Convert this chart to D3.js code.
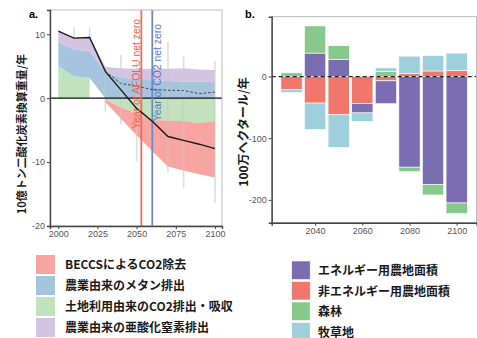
<!DOCTYPE html>
<html><head><meta charset="utf-8">
<script src="https://cdn.jsdelivr.net/npm/d3@7"></script>
<style>
body{margin:0;background:#fff}
svg{display:block}
.tick text{font-family:"Liberation Sans",Arial,sans-serif;font-size:9px;fill:#555}
.jp{font-family:"Noto Sans CJK JP",sans-serif;font-weight:bold;fill:#1a1a1a}
</style>
</head><body>
<svg id="c" width="477" height="338"></svg>
<script>
// ---------- Panel a data (10億トンCO2換算/年) ----------
const years = [2000,2010,2020,2030,2040,2050,2060,2070,2080,2090,2100];
const landUseCO2 = [5.0,3.45,3.2,-0.3,-1.4,-2.4,-3.4,-3.5,-3.6,-3.9,-3.6];
const methane    = [3.8,4.15,4.2,4.0,3.3,2.9,2.8,2.7,2.6,2.6,2.5];
const nitrousOx  = [1.7,1.9,2.2,0.9,1.4,1.7,1.8,1.9,2.1,1.9,1.9];
const beccs      = [null,null,null,-0.3,-1.8,-3.4,-4.9,-7.2,-7.7,-8.0,-8.8];
const netTotal   = [10.5,9.4,9.5,4.2,1.3,-1.6,-3.6,-6.0,-6.6,-7.2,-7.9];
const netExclBeccs = [null,null,null,4.2,2.3,1.9,1.35,1.25,1.2,0.7,0.95];
const rangeYears = [2010,2020,2030,2040,2050,2070,2080,2100];
const rangeLow   = [8.8,9.0,-2.2,-4.1,-9.9,-11.6,-14.1,-16.4];
const rangeHigh  = [11.1,11.1,5.0,6.8,5.5,8.8,6.6,5.8];
const afoluNetZeroYear = 2053;
const co2NetZeroYear = 2060;
const yTicksA = [-20,-10,0,10];
const xTicksA = [2000,2025,2050,2075,2100];
const legendA = ["BECCSによるCO2除去","農業由来のメタン排出","土地利用由来のCO2排出・吸収","農業由来の亜酸化窒素排出"];

// ---------- Panel b data (100万ヘクタール/年) ----------
const barYears = [2030,2040,2050,2060,2070,2080,2090,2100];
const nonEnergyCrop = [-21,-43,-62,-44,-7,5,9,10];
const energyCrop    = [0,38,28,-15,-37,-147,-175,-205];
const forest        = [6,44,22,0,8,-7,-17,-17];
const pasture       = [-5,-43,-53,-14,6,28,25,28];
const yTicksB = [-200,-100,0];
const xTicksB = [2040,2060,2080,2100];
const legendB = ["エネルギー用農地面積","非エネルギー用農地面積","森林","牧草地"];

const svg = d3.select("#c");

// ================= Panel a =================
const A = {l:50, r:222, t:10, b:226};
const xa = d3.scaleLinear().domain([1994.7,2104.5]).range([A.l,A.r]);
const ya = d3.scaleLinear().domain([-20,13.8]).range([A.b,A.t]);
const colA = {beccs:"#f8a5a2", methane:"#a6c4de", land:"#c0e2bd", n2o:"#d5c4e1"};

const gA = svg.append("g");
svg.append("clipPath").attr("id","clipA").append("rect")
  .attr("x",A.l).attr("y",A.t).attr("width",A.r-A.l).attr("height",A.b-A.t);
const plotA = gA.append("g").attr("clip-path","url(#clipA)");

const rowsA = years.map((y,i)=>({year:y, land:landUseCO2[i], methane:methane[i], n2o:nitrousOx[i], beccs:beccs[i]==null?0:beccs[i]}));
const stA = d3.stack().keys(["land","methane","n2o","beccs"]).offset(d3.stackOffsetDiverging)(rowsA);
const areaA = d3.area().x(d=>xa(d.data.year)).y0(d=>ya(d[0])).y1(d=>ya(d[1]));
const byKey = Object.fromEntries(stA.map(s=>[s.key,s]));
const landPos = byKey.land.filter((d,i)=>landUseCO2[i]>0);
const landNeg = byKey.land.filter((d,i)=>landUseCO2[i]<=0);
plotA.append("path").attr("d",areaA(landPos)).attr("fill",colA.land);
plotA.append("path").attr("d",areaA(landNeg)).attr("fill",colA.land);
plotA.append("path").attr("d",areaA(byKey.methane)).attr("fill",colA.methane);
plotA.append("path").attr("d",areaA(byKey.n2o)).attr("fill",colA.n2o);
plotA.append("path").attr("d",areaA(byKey.beccs.filter((d,i)=>beccs[i]!=null))).attr("fill",colA.beccs);

plotA.selectAll("line.rng").data(rangeYears).join("line").attr("class","rng")
  .attr("x1",d=>xa(d)).attr("x2",d=>xa(d))
  .attr("y1",(d,i)=>ya(rangeLow[i])).attr("y2",(d,i)=>ya(rangeHigh[i]))
  .attr("stroke","#c8c8c8").attr("stroke-width",1.6).attr("opacity",0.6);

plotA.append("line").attr("x1",A.l).attr("x2",A.r).attr("y1",ya(0)).attr("y2",ya(0))
  .attr("stroke","#111").attr("stroke-width",1.2);

plotA.append("line").attr("x1",xa(afoluNetZeroYear)).attr("x2",xa(afoluNetZeroYear))
  .attr("y1",A.t).attr("y2",A.b).attr("stroke","#f26a5a").attr("stroke-width",1.8);
plotA.append("line").attr("x1",xa(co2NetZeroYear)).attr("x2",xa(co2NetZeroYear))
  .attr("y1",A.t).attr("y2",A.b).attr("stroke","#6b88cc").attr("stroke-width",1.8);

const lineA = d3.line().defined(d=>d[1]!=null).x(d=>xa(d[0])).y(d=>ya(d[1]));
plotA.append("path").attr("d",lineA(years.map((y,i)=>[y,netExclBeccs[i]])))
  .attr("fill","none").attr("stroke","#333").attr("stroke-width",0.9).attr("stroke-dasharray","2.5,2");
plotA.append("path").attr("d",lineA(years.map((y,i)=>[y,netTotal[i]])))
  .attr("fill","none").attr("stroke","#1a1a1a").attr("stroke-width",1.4);

gA.append("text").attr("transform",`translate(${xa(afoluNetZeroYear)-1.5},19) rotate(-90)`)
  .attr("text-anchor","end").attr("font-family","Liberation Sans,Arial,sans-serif")
  .attr("font-size",10.4).attr("fill","#f0604f").text("Year of AFOLU net zero");
gA.append("text").attr("transform",`translate(${xa(co2NetZeroYear)+8.5},24) rotate(-90)`)
  .attr("text-anchor","end").attr("font-family","Liberation Sans,Arial,sans-serif")
  .attr("font-size",10.4).attr("fill","#5a78c6").text("Year of CO2 net zero");

gA.append("rect").attr("x",A.l).attr("y",A.t).attr("width",A.r-A.l).attr("height",A.b-A.t)
  .attr("fill","none").attr("stroke","#aaa").attr("stroke-width",0.8);
const axLa = gA.append("g").attr("transform",`translate(${A.l},0)`)
  .call(d3.axisLeft(ya).tickValues(yTicksA).tickSize(3).tickPadding(2).tickFormat(d3.format("d")));
const axBa = gA.append("g").attr("transform",`translate(0,${A.b})`)
  .call(d3.axisBottom(xa).tickValues(xTicksA).tickSize(3).tickPadding(2).tickFormat(d3.format("d")));
[axLa,axBa].forEach(ax=>{ax.select(".domain").attr("stroke","#444").attr("stroke-width",1.4);
  ax.selectAll(".tick line").attr("stroke","#444");});
axLa.selectAll(".tick text").text(d=>d<0?"-"+Math.abs(d):d);

gA.append("text").attr("x",29).attr("y",18).attr("font-family","Liberation Sans,Arial,sans-serif")
  .attr("font-weight","bold").attr("font-size",11).text("a.");
gA.append("text").attr("class","jp").attr("transform","translate(26,134) rotate(-90)")
  .attr("text-anchor","middle").attr("font-size",11).text("10億トン二酸化炭素換算重量/年");

// ================= Panel b =================
const B = {l:271.7, r:476.5, t:16.7, b:222.7};
const xb = d3.scaleLinear().domain([2021.6,2108.4]).range([B.l,B.r]);
const yb = d3.scaleLinear().domain([-237,97]).range([B.b,B.t]);
const colB = {nonEnergy:"#f1766b", energy:"#7b6db1", forest:"#87c98b", pasture:"#9dcfdd"};
const gB = svg.append("g");
const rowsB = barYears.map((y,i)=>({year:y, nonEnergy:nonEnergyCrop[i], energy:energyCrop[i], forest:forest[i], pasture:pasture[i]}));
const stB = d3.stack().keys(["nonEnergy","energy","forest","pasture"]).offset(d3.stackOffsetDiverging)(rowsB);
const bw = (xb(2039) - xb(2030));
gB.selectAll("g.ser").data(stB).join("g").attr("class","ser").attr("fill",s=>colB[s.key])
  .selectAll("rect").data(s=>s.filter(d=>d[1]!==d[0])).join("rect")
  .attr("x",d=>xb(d.data.year)-bw/2).attr("width",bw)
  .attr("y",d=>yb(d[1])).attr("height",d=>yb(d[0])-yb(d[1]))
  .attr("stroke","#fff").attr("stroke-width",0.6);
gB.append("line").attr("x1",B.l).attr("x2",B.r).attr("y1",yb(0)).attr("y2",yb(0))
  .attr("stroke","#222").attr("stroke-width",1.2).attr("stroke-dasharray","4,3");
gB.append("rect").attr("x",B.l).attr("y",B.t).attr("width",B.r-B.l).attr("height",B.b-B.t)
  .attr("fill","none").attr("stroke","#aaa").attr("stroke-width",0.8);
const axLb = gB.append("g").attr("transform",`translate(${B.l},0)`)
  .call(d3.axisLeft(yb).tickValues(yTicksB).tickSize(3).tickPadding(2).tickFormat(d3.format("d")));
const axBb = gB.append("g").attr("transform",`translate(0,${B.b})`)
  .call(d3.axisBottom(xb).tickValues(xTicksB).tickSize(3).tickPadding(2).tickFormat(d3.format("d")));
[axLb,axBb].forEach(ax=>{ax.select(".domain").attr("stroke","#444").attr("stroke-width",1.4);
  ax.selectAll(".tick line").attr("stroke","#444");});
axLb.selectAll(".tick text").text(d=>d<0?"-"+Math.abs(d):d);
gB.append("text").attr("x",245).attr("y",18).attr("font-family","Liberation Sans,Arial,sans-serif")
  .attr("font-weight","bold").attr("font-size",11).text("b.");
gB.append("text").attr("class","jp").attr("transform","translate(248,132) rotate(-90)")
  .attr("text-anchor","middle").attr("font-size",12).text("100万ヘクタール/年");

// ================= Legends =================
const legA = svg.append("g");
const colsA = [colA.beccs,colA.methane,colA.land,colA.n2o];
legendA.forEach((t,i)=>{
  const y = 255 + i*21;
  legA.append("rect").attr("x",36).attr("y",y).attr("width",19).attr("height",19).attr("fill",colsA[i]);
  legA.append("text").attr("class","jp").attr("x",65).attr("y",y+14).attr("font-size",12).text(t);
});
const legB = svg.append("g");
const colsB = [colB.energy,colB.nonEnergy,colB.forest,colB.pasture];
legendB.forEach((t,i)=>{
  const y = 261 + i*20.5;
  legB.append("rect").attr("x",291.7).attr("y",y).attr("width",18.5).attr("height",18.5)
    .attr("fill",colsB[i]).attr("stroke","#fff").attr("stroke-width",0.6);
  legB.append("text").attr("class","jp").attr("x",318).attr("y",y+14).attr("font-size",12).text(t);
});
</script>
</body></html>
